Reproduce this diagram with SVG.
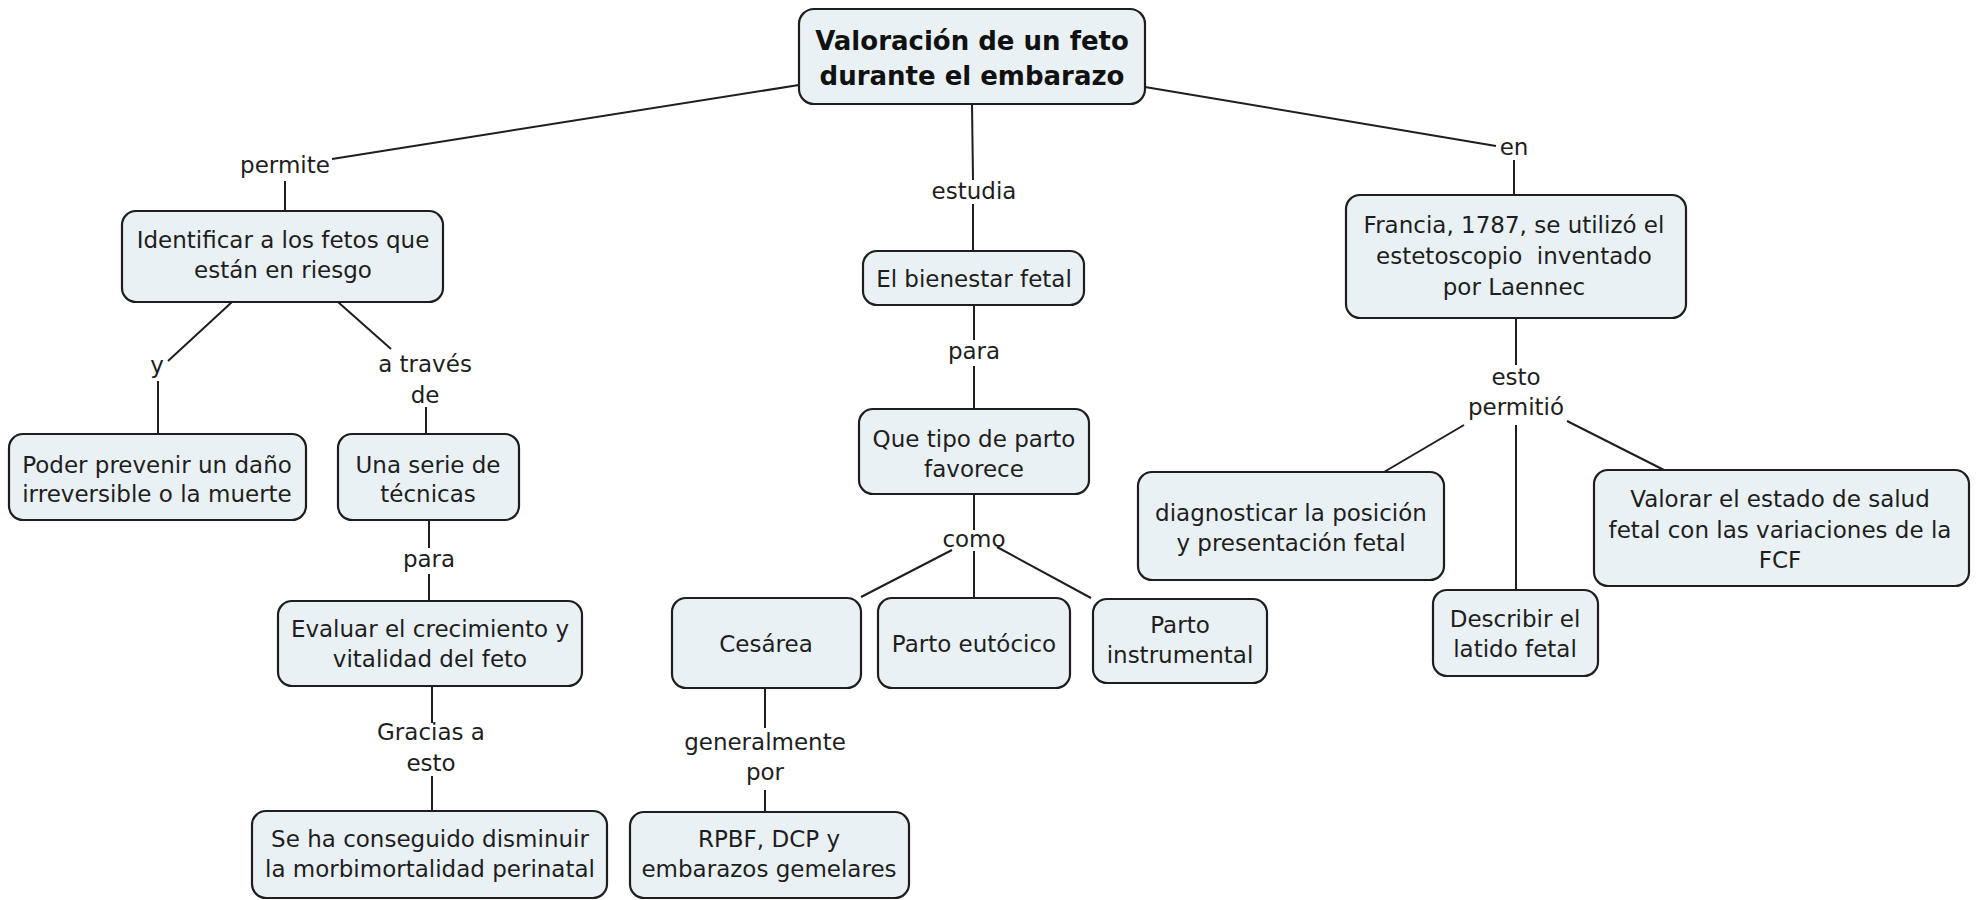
<svg xmlns="http://www.w3.org/2000/svg" width="1977" height="900" viewBox="0 0 1977 900">
<style>
.n rect{fill:#eaf1f4;stroke:#1e1e1e;stroke-width:2.2}
text{font-family:"DejaVu Sans","Verdana",sans-serif;font-size:23px;fill:#1e1e1e;text-anchor:middle}
.t{font-weight:bold;font-size:26px;fill:#111}
#connectors line{stroke:#1e1e1e;stroke-width:2}
</style>
<rect width="1977" height="900" fill="#ffffff"/>
<g id="connectors">
<line x1="799" y1="85" x2="332" y2="159"/>
<line x1="285" y1="181" x2="285" y2="211"/>
<line x1="972" y1="104" x2="973" y2="180"/>
<line x1="973" y1="204" x2="973" y2="251"/>
<line x1="974" y1="305" x2="974" y2="340"/>
<line x1="974" y1="366" x2="974" y2="409"/>
<line x1="1145" y1="87" x2="1496" y2="146"/>
<line x1="1514" y1="160" x2="1514" y2="195"/>
<line x1="232" y1="302" x2="168" y2="361"/>
<line x1="158" y1="381" x2="158" y2="434"/>
<line x1="338" y1="302" x2="391" y2="349"/>
<line x1="426" y1="407" x2="426" y2="434"/>
<line x1="429" y1="520" x2="429" y2="548"/>
<line x1="429" y1="574" x2="429" y2="601"/>
<line x1="432" y1="686" x2="432" y2="723"/>
<line x1="432" y1="776" x2="432" y2="811"/>
<line x1="974" y1="494" x2="974" y2="530"/>
<line x1="952" y1="550" x2="861" y2="597"/>
<line x1="974" y1="551" x2="974" y2="598"/>
<line x1="997" y1="547" x2="1091" y2="598"/>
<line x1="765" y1="688" x2="765" y2="728"/>
<line x1="765" y1="790" x2="765" y2="812"/>
<line x1="1516" y1="318" x2="1516" y2="365"/>
<line x1="1464" y1="425" x2="1384" y2="472"/>
<line x1="1516" y1="425" x2="1516" y2="590"/>
<line x1="1567" y1="421" x2="1664" y2="470"/>
</g>
<g id="labels">
<text x="285" y="173">permite</text>
<text x="974" y="199">estudia</text>
<text x="1514" y="155">en</text>
<text x="157" y="373">y</text>
<text x="425" y="372">a través</text>
<text x="425" y="403">de</text>
<text x="429" y="567">para</text>
<text x="431" y="740">Gracias a</text>
<text x="431" y="771">esto</text>
<text x="974" y="359">para</text>
<text x="974" y="547">como</text>
<text x="765" y="750">generalmente</text>
<text x="765" y="780">por</text>
<text x="1516" y="385">esto</text>
<text x="1516" y="415">permitió</text>
</g>
<g id="n-title" class="n"><rect x="799" y="9" width="346" height="95" rx="15"/><text class="t" x="972" y="50">Valoración de un feto</text><text class="t" x="972" y="85">durante el embarazo</text></g>
<g id="n-identificar" class="n"><rect x="122" y="211" width="321" height="91" rx="14"/><text x="283" y="248">Identificar a los fetos que</text><text x="283" y="278">están en riesgo</text></g>
<g id="n-poder" class="n"><rect x="9" y="434" width="297" height="86" rx="14"/><text x="157" y="473">Poder prevenir un daño</text><text x="157" y="502">irreversible o la muerte</text></g>
<g id="n-una" class="n"><rect x="338" y="434" width="181" height="86" rx="14"/><text x="428" y="473">Una serie de</text><text x="428" y="502">técnicas</text></g>
<g id="n-evaluar" class="n"><rect x="278" y="601" width="304" height="85" rx="14"/><text x="430" y="637">Evaluar el crecimiento y</text><text x="430" y="667">vitalidad del feto</text></g>
<g id="n-seha" class="n"><rect x="252" y="811" width="355" height="87" rx="14"/><text x="430" y="847">Se ha conseguido disminuir</text><text x="430" y="877">la morbimortalidad perinatal</text></g>
<g id="n-bienestar" class="n"><rect x="863" y="251" width="221" height="54" rx="14"/><text x="974" y="287">El bienestar fetal</text></g>
<g id="n-quetipo" class="n"><rect x="859" y="409" width="230" height="85" rx="14"/><text x="974" y="447">Que tipo de parto</text><text x="974" y="477">favorece</text></g>
<g id="n-cesarea" class="n"><rect x="672" y="598" width="189" height="90" rx="14"/><text x="766" y="652">Cesárea</text></g>
<g id="n-eutocico" class="n"><rect x="878" y="598" width="192" height="90" rx="14"/><text x="974" y="652">Parto eutócico</text></g>
<g id="n-instrumental" class="n"><rect x="1093" y="599" width="174" height="84" rx="14"/><text x="1180" y="633">Parto</text><text x="1180" y="663">instrumental</text></g>
<g id="n-rpbf" class="n"><rect x="630" y="812" width="279" height="86" rx="14"/><text x="769" y="847">RPBF, DCP y</text><text x="769" y="877">embarazos gemelares</text></g>
<g id="n-francia" class="n"><rect x="1346" y="195" width="340" height="123" rx="14"/><text x="1514" y="233">Francia, 1787, se utilizó el</text><text x="1514" y="264" xml:space="preserve">estetoscopio  inventado</text><text x="1514" y="295">por Laennec</text></g>
<g id="n-diagnosticar" class="n"><rect x="1138" y="472" width="306" height="108" rx="14"/><text x="1291" y="521">diagnosticar la posición</text><text x="1291" y="551">y presentación fetal</text></g>
<g id="n-describir" class="n"><rect x="1433" y="590" width="165" height="86" rx="14"/><text x="1515" y="627">Describir el</text><text x="1515" y="657">latido fetal</text></g>
<g id="n-valorar" class="n"><rect x="1594" y="470" width="375" height="116" rx="14"/><text x="1780" y="507">Valorar el estado de salud</text><text x="1780" y="538">fetal con las variaciones de la</text><text x="1780" y="568">FCF</text></g>
</svg>
